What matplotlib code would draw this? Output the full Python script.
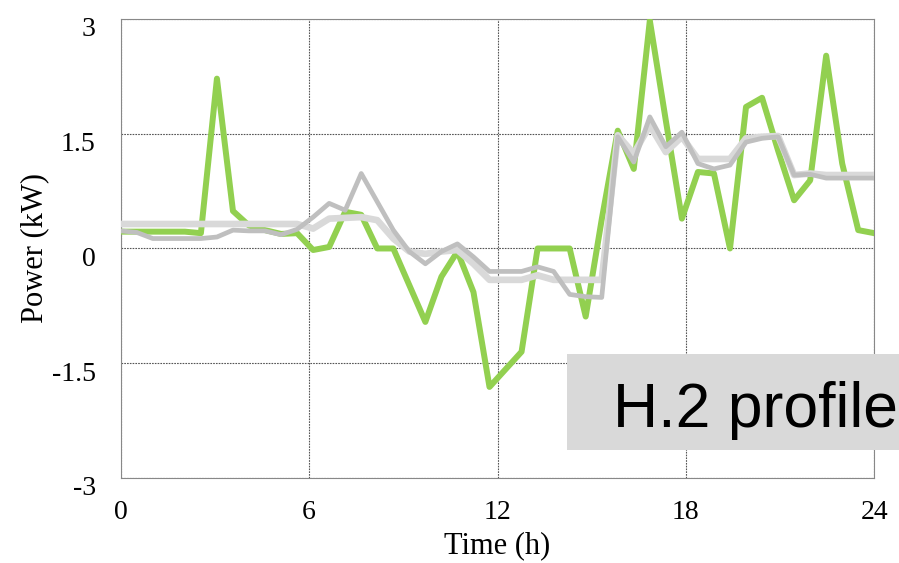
import numpy as np
import matplotlib
matplotlib.use("Agg")
import matplotlib.pyplot as plt
import matplotlib.transforms as mtransforms
from matplotlib.patches import Rectangle

plt.rcParams['font.family'] = ['Liberation Serif', 'DejaVu Serif']

# 48 samples spread over the day
hours = np.linspace(0, 24, 48)

measured = [0.22, 0.22, 0.22, 0.22, 0.22, 0.20, 2.22, 0.49, 0.30, 0.24,
            0.19, 0.20, -0.02, 0.02, 0.48, 0.44, 0.00, 0.00, -0.48, -0.96,
            -0.37, -0.04, -0.57, -1.81, -1.58, -1.35, 0.00, 0.00, 0.00, -0.89,
            0.38, 1.54, 1.04, 2.98, 1.67, 0.39, 1.00, 0.98, 0.00, 1.85,
            1.97, 1.28, 0.63, 0.89, 2.52, 1.11, 0.24, 0.20]

forecast_a = [0.23, 0.21, 0.13, 0.13, 0.13, 0.13, 0.15, 0.24, 0.23, 0.23,
              0.18, 0.25, 0.41, 0.59, 0.50, 0.98, 0.61, 0.24, -0.04, -0.20,
              -0.04, 0.06, -0.11, -0.30, -0.30, -0.30, -0.24, -0.30, -0.60, -0.63,
              -0.64, 1.46, 1.13, 1.72, 1.33, 1.52, 1.11, 1.04, 1.09, 1.39,
              1.44, 1.46, 0.96, 0.97, 0.92, 0.92, 0.92, 0.92]

forecast_b = [0.32, 0.32, 0.32, 0.32, 0.32, 0.32, 0.32, 0.32, 0.32, 0.32,
              0.32, 0.32, 0.26, 0.39, 0.40, 0.41, 0.37, 0.13, -0.04, -0.07,
              -0.04, -0.02, -0.20, -0.41, -0.41, -0.41, -0.35, -0.41, -0.41, -0.41,
              -0.41, 1.48, 1.24, 1.61, 1.26, 1.46, 1.17, 1.17, 1.17, 1.44,
              1.46, 1.47, 0.96, 0.98, 0.96, 0.96, 0.96, 0.96]

xticks = [0, 6, 12, 18, 24]
yticks = [-3, -1.5, 0, 1.5, 3]
ytick_labels = ['-3', '-1.5', '0', '1.5', '3']

fig = plt.figure(figsize=(8.99, 5.63), dpi=100)
ax = fig.add_axes([0.1343, 0.151, 0.8382, 0.8153])

ax.plot(hours, measured, color='#92D050', lw=4.3, solid_joinstyle='round', zorder=3)
ax.plot(hours, forecast_b, color='#D9D9D9', lw=4.8, solid_joinstyle='round', zorder=4)
ax.plot(hours, forecast_a, color='#BFBFBF', lw=3.4, solid_joinstyle='round', zorder=5)

ax.set_xlim(0, 24)
ax.set_ylim(-3, 3)
ax.set_xticks(xticks)
ax.set_yticks(yticks)
ax.set_yticklabels(ytick_labels)
ax.tick_params(length=0, labelsize=20)
ax.tick_params(axis='y', pad=18)
ax.tick_params(axis='x', pad=16)

ax.grid(True, color='#555555', lw=0.8, ls=(0, (1.5, 1)))
for s in ax.spines.values():
    s.set_color('#888888')
    s.set_linewidth(0.8)
    s.set_linestyle((0, (1.5, 1)))

# y labels sit a bit below their grid line
offset = mtransforms.ScaledTranslation(0, -8 / 100, fig.dpi_scale_trans)
for lab in ax.get_yticklabels():
    lab.set_transform(lab.get_transform() + offset)

ax.set_xlabel('Time (h)', fontsize=22, labelpad=4)
ax.set_ylabel('Power (kW)', fontsize=22, labelpad=2)

# grey label box, runs off the right edge
fig.patches.append(Rectangle((0.6307, 0.2007), 0.40, 0.1705, transform=fig.transFigure,
                             fc='#D9D9D9', ec='none', zorder=9))
fig.text(0.682, 0.2416, 'H.2 profile', fontsize=45, family='Liberation Sans',
         va='baseline', ha='left', zorder=10)

fig.savefig('out.png', dpi=100)
